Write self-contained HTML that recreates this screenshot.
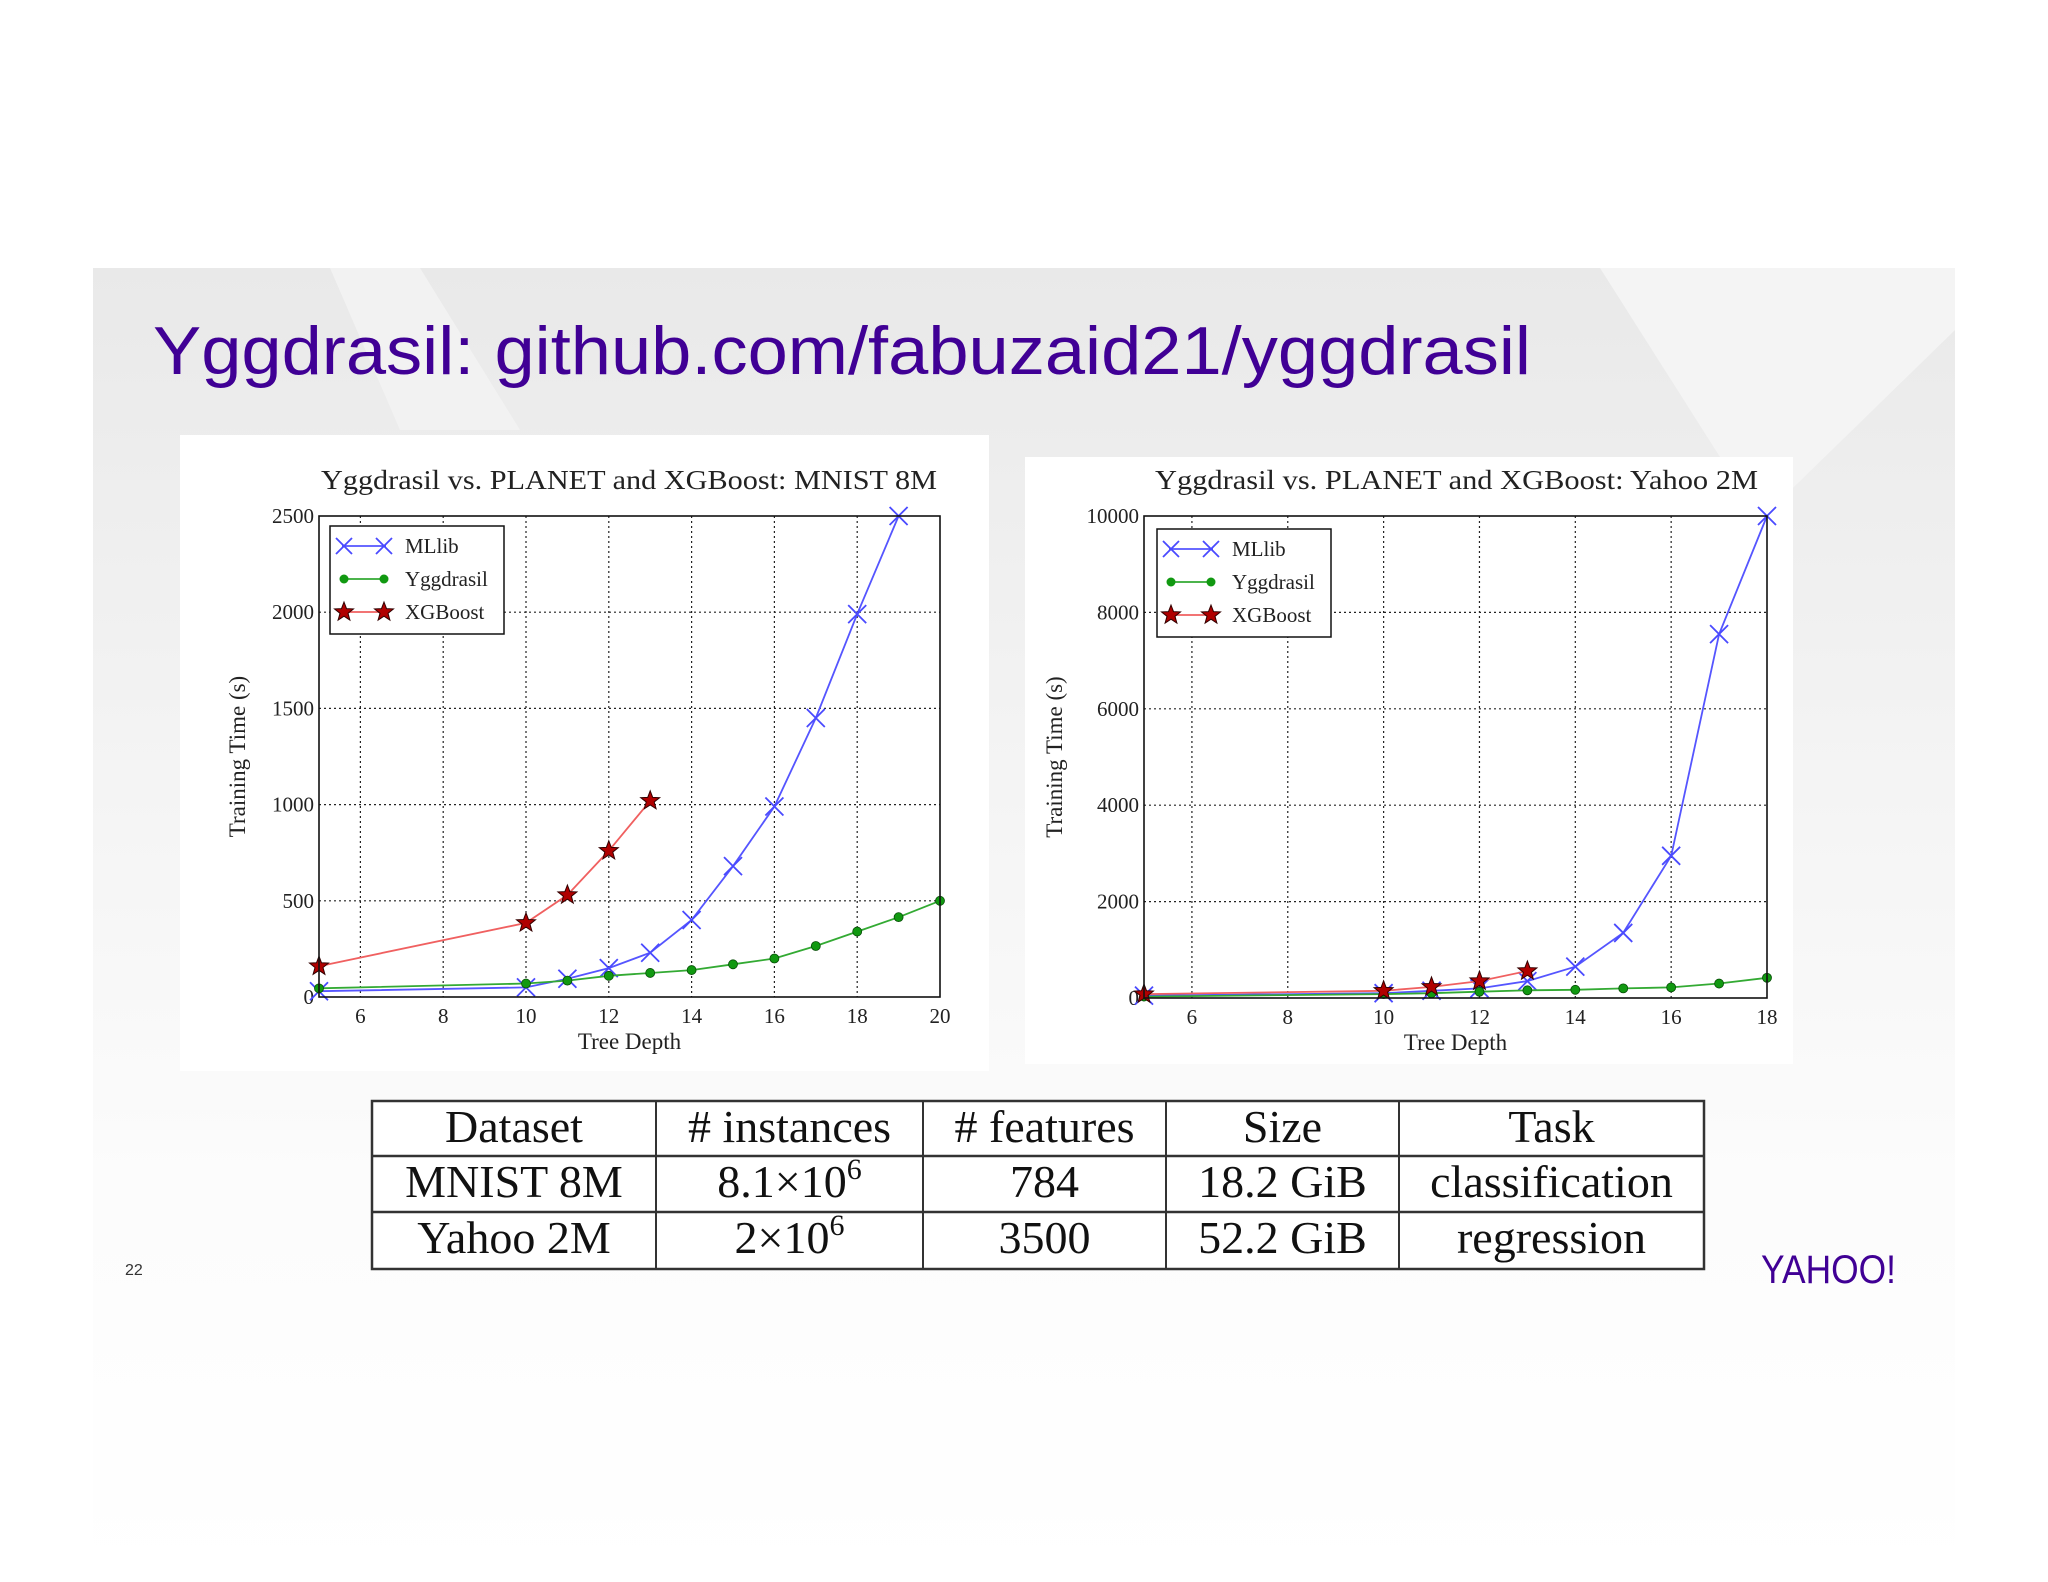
<!DOCTYPE html>
<html><head><meta charset="utf-8"><style>
html,body{margin:0;padding:0;background:#fff;}
svg{display:block;}
</style></head><body>
<svg id="page" width="2048" height="1582" viewBox="0 0 2048 1582" xmlns="http://www.w3.org/2000/svg">
<defs>
<linearGradient id="bg" x1="0" y1="0" x2="0" y2="1">
<stop offset="0" stop-color="#e9e9e9"/><stop offset="0.35" stop-color="#f3f3f3"/><stop offset="0.7" stop-color="#fcfcfc"/><stop offset="1" stop-color="#ffffff"/>
</linearGradient>
</defs>
<rect x="93" y="268" width="1862" height="1314" fill="url(#bg)"/>
<polygon points="1600,268 1955,268 1955,330 1760,520" fill="#f4f4f4"/>
<polygon points="330,268 420,268 520,430 400,430" fill="#f2f2f2"/>
<text x="153" y="374" font-family="Liberation Sans, sans-serif" font-size="68" fill="#400095" textLength="1378" lengthAdjust="spacingAndGlyphs">Yggdrasil: github.com/fabuzaid21/yggdrasil</text>
<rect x="180" y="435" width="809" height="636" fill="#fff"/>
<rect x="1025" y="457" width="768" height="607" fill="#fff"/>
<g id="c1"></g>
<g id="c2"></g>
<g id="tbl"></g>
<text x="125" y="1275" font-family="Liberation Sans, sans-serif" font-size="16" fill="#333">22</text>
<text x="1761" y="1283" font-family="Liberation Sans, sans-serif" font-size="40" fill="#400095" textLength="135" lengthAdjust="spacingAndGlyphs">YAHOO!</text>
</svg>
<script>
// MNIST 8M data
const mnistMLlibX = [5,10,11,12,13,14,15,16,17,18,19];
const mnistMLlibY = [30,50,95,150,230,400,680,990,1450,1990,2500];
const mnistYggX = [5,10,11,12,13,14,15,16,17,18,19,20];
const mnistYggY = [45,70,85,110,125,140,170,200,265,340,415,500];
const mnistXgbX = [5,10,11,12,13];
const mnistXgbY = [160,385,530,760,1020];
const mnistXTicks = [6,8,10,12,14,16,18,20];
const mnistYTicks = [0,500,1000,1500,2000,2500];
// Yahoo 2M data
const yahooMLlibX = [5,10,11,12,13,14,15,16,17,18];
const yahooMLlibY = [50,100,150,200,350,650,1350,2950,7550,10000];
const yahooYggX = [5,10,11,12,13,14,15,16,17,18];
const yahooYggY = [30,80,100,130,160,170,200,220,300,420];
const yahooXgbX = [5,10,11,12,13];
const yahooXgbY = [80,150,230,350,560];
const yahooXTicks = [6,8,10,12,14,16,18];
const yahooYTicks = [0,2000,4000,6000,8000,10000];

const NS = "http://www.w3.org/2000/svg";
function mk(parent, tag, attrs, text){
  const e = document.createElementNS(NS, tag);
  for (const k in attrs) e.setAttribute(k, attrs[k]);
  if (text !== undefined) e.textContent = text;
  parent.appendChild(e);
  return e;
}
const SERIF = "Liberation Serif, serif";
function starPts(cx, cy, r){
  let p = [];
  for (let i=0;i<10;i++){
    const a = -Math.PI/2 + i*Math.PI/5;
    const rr = i%2===0 ? r : r*0.42;
    p.push((cx+rr*Math.cos(a)).toFixed(1)+","+(cy+rr*Math.sin(a)).toFixed(1));
  }
  return p.join(" ");
}
function drawX(g, cx, cy, s){
  mk(g,'path',{d:`M${cx-s},${cy-s}L${cx+s},${cy+s}M${cx-s},${cy+s}L${cx+s},${cy-s}`,stroke:'#4a4aff','stroke-width':1.8,fill:'none'});
}

function chart(gid, cfg){
  const g = document.getElementById(gid);
  const {x0,x1,y0,y1,xmin,xmax,ymax,xTicks,yTicks,series,title,legend} = cfg;
  const sx = v => x0 + (v-xmin)/(xmax-xmin)*(x1-x0);
  const sy = v => y1 - v/ymax*(y1-y0);
  xTicks.forEach(t=>{ if(t>xmin && t<xmax){
    const l = mk(g,'line',{x1:sx(t),x2:sx(t),y1:y0,y2:y1,stroke:'#222','stroke-width':1.2,'stroke-dasharray':'2,3'});
    
    
  }});
  yTicks.forEach(t=>{ if(t>0 && t<ymax){
    const l = mk(g,'line',{x1:x0,x2:x1,y1:sy(t),y2:sy(t),stroke:'#222','stroke-width':1.2,'stroke-dasharray':'2,3'});
    
    
  }});
  xTicks.forEach(t=>{
    const e = mk(g,'text',{x:sx(t),y:y1+26,'font-family':SERIF,'font-size':21,'text-anchor':'middle',fill:'#222'},String(t));
    
    
  });
  yTicks.forEach(t=>{
    const e = mk(g,'text',{x:x0-5,y:sy(t)+7,'font-family':SERIF,'font-size':21,'text-anchor':'end',fill:'#222'},String(t));
    
    
  });
  series.forEach(s=>{
    const pts = s.x.map((v,i)=>sx(v).toFixed(1)+","+sy(s.y[i]).toFixed(1)).join(" ");
    const pl = mk(g,'polyline',{points:pts,fill:'none',stroke:s.color,'stroke-width':1.8});
    
    
    s.x.forEach((v,i)=>{
      const cx = sx(v), cy = sy(s.y[i]);
      if (s.marker==='x') drawX(g,cx,cy,9);
      else if (s.marker==='o') mk(g,'circle',{cx:cx,cy:cy,r:4.5,fill:'#119911',stroke:'#064d06','stroke-width':0.8});
      else mk(g,'polygon',{points:starPts(cx,cy,10),fill:'#b00000',stroke:'#300','stroke-width':1});
    });
  });
  const fr = mk(g,'rect',{x:x0,y:y0,width:x1-x0,height:y1-y0,fill:'none',stroke:'#111','stroke-width':1.6});
  
  
  const tt = mk(g,'text',{x:cfg.tx,y:y0-27,'font-family':SERIF,'font-size':27,fill:'#222',textLength:cfg.tw,lengthAdjust:'spacingAndGlyphs'},title);
  
  
  const xl = mk(g,'text',{x:(x0+x1)/2,y:y1+52,'font-family':SERIF,'font-size':23,'text-anchor':'middle',fill:'#222'},'Tree Depth');
  
  
  const yx = cfg.ylx, yy=(y0+y1)/2;
  const yl = mk(g,'text',{x:yx,y:yy,'font-family':SERIF,'font-size':23,'text-anchor':'middle',fill:'#222',transform:`rotate(-90 ${yx} ${yy})`},'Training Time (s)');
  
  
  const lg = mk(g,'g',{});
  
  
  const lx = legend[0], ly = legend[1];
  mk(lg,'rect',{x:lx,y:ly,width:174,height:108,fill:'#fff',stroke:'#111','stroke-width':1.5});
  const names = ['MLlib','Yggdrasil','XGBoost'];
  names.forEach((n,i)=>{
    const yy2 = ly+20+i*33, s = series[i];
    mk(lg,'line',{x1:lx+12,x2:lx+56,y1:yy2,y2:yy2,stroke:s.color,'stroke-width':1.8});
    [lx+14,lx+54].forEach(cx=>{
      if (s.marker==='x') drawX(lg,cx,yy2,8);
      else if (s.marker==='o') mk(lg,'circle',{cx:cx,cy:yy2,r:4.5,fill:'#119911'});
      else mk(lg,'polygon',{points:starPts(cx,yy2,10),fill:'#b00000',stroke:'#300','stroke-width':1});
    });
    const t = mk(lg,'text',{x:lx+75,y:yy2+7,'font-family':SERIF,'font-size':21,fill:'#222'},n);
    
    
  });
}

chart('c1',{x0:319,x1:940,y0:516,y1:997,xmin:5,xmax:20,ymax:2500,xTicks:mnistXTicks,yTicks:mnistYTicks,
  title:'Yggdrasil vs. PLANET and XGBoost: MNIST 8M',tx:321,tw:616,ylx:245,legend:[330,526],
  series:[{name:'mllib',x:mnistMLlibX,y:mnistMLlibY,color:'#5555ff',marker:'x'},
          {name:'yggdrasil',x:mnistYggX,y:mnistYggY,color:'#33aa33',marker:'o'},
          {name:'xgboost',x:mnistXgbX,y:mnistXgbY,color:'#f06060',marker:'s'}]});
chart('c2',{x0:1144,x1:1767,y0:516,y1:998,xmin:5,xmax:18,ymax:10000,xTicks:yahooXTicks,yTicks:yahooYTicks,
  title:'Yggdrasil vs. PLANET and XGBoost: Yahoo 2M',tx:1155,tw:603,ylx:1062,legend:[1157,529],
  series:[{name:'mllib',x:yahooMLlibX,y:yahooMLlibY,color:'#5555ff',marker:'x'},
          {name:'yggdrasil',x:yahooYggX,y:yahooYggY,color:'#33aa33',marker:'o'},
          {name:'xgboost',x:yahooXgbX,y:yahooXgbY,color:'#f06060',marker:'s'}]});

(function(){
  const g = document.getElementById('tbl');
  const cols = [372,656,923,1166,1399,1704];
  const rows = [1101,1156,1212,1269];
  const cells = [
    ['Dataset','# instances','# features','Size','Task'],
    ['MNIST 8M','8.1×10|6','784','18.2 GiB','classification'],
    ['Yahoo 2M','2×10|6','3500','52.2 GiB','regression']];
  mk(g,'rect',{x:372,y:1101,width:1332,height:168,fill:'#fff',stroke:'#333','stroke-width':2.5});
  cols.slice(1,-1).forEach(x=>mk(g,'line',{x1:x,x2:x,y1:1101,y2:1269,stroke:'#333','stroke-width':2}));
  rows.slice(1,-1).forEach(y=>mk(g,'line',{x1:372,x2:1704,y1:y,y2:y,stroke:'#333','stroke-width':2.5}));
  cells.forEach((r,ri)=>r.forEach((c,ci)=>{
    const cx = (cols[ci]+cols[ci+1])/2, cy = rows[ri]+41;
    const t = mk(g,'text',{x:cx,y:cy,'font-family':SERIF,'font-size':46,'text-anchor':'middle',fill:'#111'});
    
    
    if (c.includes('|')){
      const [b,e] = c.split('|');
      mk(t,'tspan',{},b);
      mk(t,'tspan',{dy:-18,'font-size':30},e);
    } else t.textContent = c;
  }));
})();
</script>
</body></html>
